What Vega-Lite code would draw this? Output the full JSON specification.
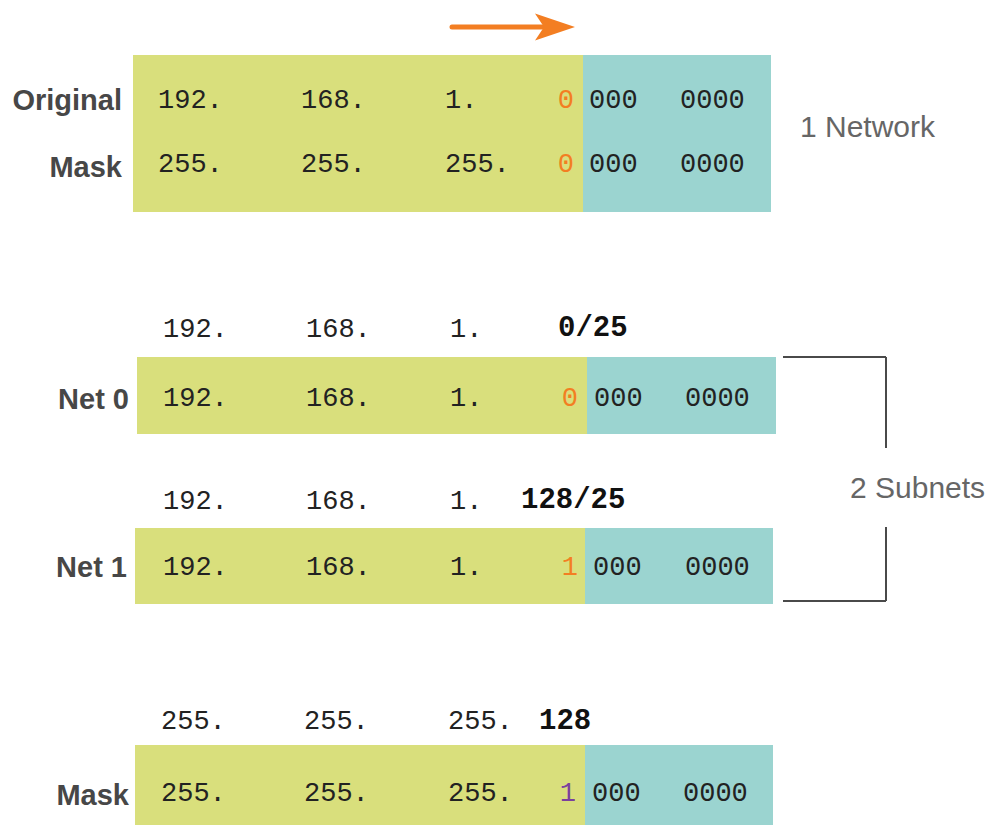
{
  "$schema": "https://vega.github.io/schema/vega-lite/v6.json",
  "autosize": {"type": "fit", "contains": "padding"},
  "width": 989,
  "height": 825,
  "padding": 0,
  "background": "white",
  "config": {"view": {"stroke": null}},
  "datasets": {
    "boxes": [
      {"x1": 133, "x2": 583, "y1": 55, "y2": 212, "part": "network"},
      {"x1": 583, "x2": 771, "y1": 55, "y2": 212, "part": "host"},
      {"x1": 137, "x2": 587, "y1": 357, "y2": 434, "part": "network"},
      {"x1": 587, "x2": 776, "y1": 357, "y2": 434, "part": "host"},
      {"x1": 135, "x2": 585, "y1": 528, "y2": 604, "part": "network"},
      {"x1": 585, "x2": 773, "y1": 528, "y2": 604, "part": "host"},
      {"x1": 135, "x2": 585, "y1": 745, "y2": 825, "part": "network"},
      {"x1": 585, "x2": 773, "y1": 745, "y2": 825, "part": "host"}
    ],
    "texts": [
      {"x": 122, "y": 110, "t": "Original", "role": "label"},
      {"x": 122, "y": 177, "t": "Mask", "role": "label"},
      {"x": 129, "y": 409, "t": "Net 0", "role": "label"},
      {"x": 127, "y": 577, "t": "Net 1", "role": "label"},
      {"x": 129, "y": 805, "t": "Mask", "role": "label"},

      {"x": 158, "y": 108, "t": "192.", "role": "mono"},
      {"x": 301, "y": 108, "t": "168.", "role": "mono"},
      {"x": 445, "y": 108, "t": "1.", "role": "mono"},
      {"x": 589, "y": 108, "t": "000", "role": "mono"},
      {"x": 680, "y": 108, "t": "0000", "role": "mono"},
      {"x": 158, "y": 172, "t": "255.", "role": "mono"},
      {"x": 301, "y": 172, "t": "255.", "role": "mono"},
      {"x": 445, "y": 172, "t": "255.", "role": "mono"},
      {"x": 589, "y": 172, "t": "000", "role": "mono"},
      {"x": 680, "y": 172, "t": "0000", "role": "mono"},

      {"x": 163, "y": 337, "t": "192.", "role": "mono"},
      {"x": 306, "y": 337, "t": "168.", "role": "mono"},
      {"x": 450, "y": 337, "t": "1.", "role": "mono"},
      {"x": 163, "y": 406, "t": "192.", "role": "mono"},
      {"x": 306, "y": 406, "t": "168.", "role": "mono"},
      {"x": 450, "y": 406, "t": "1.", "role": "mono"},
      {"x": 594, "y": 406, "t": "000", "role": "mono"},
      {"x": 685, "y": 406, "t": "0000", "role": "mono"},

      {"x": 163, "y": 509, "t": "192.", "role": "mono"},
      {"x": 306, "y": 509, "t": "168.", "role": "mono"},
      {"x": 450, "y": 509, "t": "1.", "role": "mono"},
      {"x": 163, "y": 575, "t": "192.", "role": "mono"},
      {"x": 306, "y": 575, "t": "168.", "role": "mono"},
      {"x": 450, "y": 575, "t": "1.", "role": "mono"},
      {"x": 593, "y": 575, "t": "000", "role": "mono"},
      {"x": 685, "y": 575, "t": "0000", "role": "mono"},

      {"x": 161, "y": 729, "t": "255.", "role": "mono"},
      {"x": 304, "y": 729, "t": "255.", "role": "mono"},
      {"x": 448, "y": 729, "t": "255.", "role": "mono"},
      {"x": 161, "y": 801, "t": "255.", "role": "mono"},
      {"x": 304, "y": 801, "t": "255.", "role": "mono"},
      {"x": 448, "y": 801, "t": "255.", "role": "mono"},
      {"x": 592, "y": 801, "t": "000", "role": "mono"},
      {"x": 683, "y": 801, "t": "0000", "role": "mono"},

      {"x": 574, "y": 108, "t": "0", "role": "orange"},
      {"x": 574, "y": 172, "t": "0", "role": "orange"},
      {"x": 578, "y": 406, "t": "0", "role": "orange"},
      {"x": 578, "y": 575, "t": "1", "role": "orange"},
      {"x": 576, "y": 801, "t": "1", "role": "purple"},

      {"x": 558, "y": 336, "t": "0/25", "role": "prefix"},
      {"x": 521, "y": 508, "t": "128/25", "role": "prefix"},
      {"x": 539, "y": 729, "t": "128", "role": "prefix"}
    ],
    "notes": [
      {"x": 800, "y": 137, "t": "1 Network"},
      {"x": 850, "y": 498, "t": "2 Subnets"}
    ],
    "bracket": [
      {"x1": 783, "x2": 886, "y1": 357, "y2": 357},
      {"x1": 886, "x2": 886, "y1": 357, "y2": 448},
      {"x1": 886, "x2": 886, "y1": 527, "y2": 601},
      {"x1": 783, "x2": 886, "y1": 601, "y2": 601}
    ],
    "arrow": [
      {"x1": 452, "x2": 548, "y": 27}
    ],
    "arrowhead": [
      {"x": 555, "y": 27}
    ]
  },
  "layer": [
    {
      "data": {"name": "boxes"},
      "mark": {"type": "rect"},
      "encoding": {
        "x": {"field": "x1", "type": "quantitative", "scale": {"domain": [0, 989], "nice": false, "zero": false}, "axis": null},
        "x2": {"field": "x2"},
        "y": {"field": "y1", "type": "quantitative", "scale": {"domain": [0, 825], "nice": false, "zero": false, "reverse": true}, "axis": null},
        "y2": {"field": "y2"},
        "color": {"field": "part", "type": "nominal", "scale": {"domain": ["network", "host"], "range": ["#d9df7c", "#9bd4d0"]}, "legend": null}
      }
    },
    {
      "data": {"name": "bracket"},
      "mark": {"type": "rule", "color": "#4a4a4a", "strokeWidth": 2},
      "encoding": {
        "x": {"field": "x1", "type": "quantitative"},
        "x2": {"field": "x2"},
        "y": {"field": "y1", "type": "quantitative"},
        "y2": {"field": "y2"}
      }
    },
    {
      "data": {"name": "arrow"},
      "mark": {"type": "rule", "color": "#f37e22", "strokeWidth": 5, "strokeCap": "round"},
      "encoding": {
        "x": {"field": "x1", "type": "quantitative"},
        "x2": {"field": "x2"},
        "y": {"field": "y", "type": "quantitative"}
      }
    },
    {
      "data": {"name": "arrowhead"},
      "mark": {"type": "point", "filled": true, "color": "#f37e22", "opacity": 1, "size": 1600, "shape": "M-1,-0.68L1,0L-1,0.68L-0.55,0Z"},
      "encoding": {
        "x": {"field": "x", "type": "quantitative"},
        "y": {"field": "y", "type": "quantitative"}
      }
    },
    {
      "data": {"name": "texts"},
      "transform": [{"filter": "datum.role === 'label'"}],
      "mark": {"type": "text", "font": "Liberation Sans", "fontWeight": "bold", "fontSize": 29, "align": "right", "baseline": "alphabetic", "color": "#474747", "letterSpacing": -1.2},
      "encoding": {
        "x": {"field": "x", "type": "quantitative"},
        "y": {"field": "y", "type": "quantitative"},
        "text": {"field": "t"}
      }
    },
    {
      "data": {"name": "texts"},
      "transform": [{"filter": "datum.role === 'mono'"}],
      "mark": {"type": "text", "font": "Liberation Mono", "fontSize": 27, "align": "left", "baseline": "alphabetic", "color": "#222222"},
      "encoding": {
        "x": {"field": "x", "type": "quantitative"},
        "y": {"field": "y", "type": "quantitative"},
        "text": {"field": "t"}
      }
    },
    {
      "data": {"name": "texts"},
      "transform": [{"filter": "datum.role === 'orange'"}],
      "mark": {"type": "text", "font": "Liberation Mono", "fontSize": 27, "align": "right", "baseline": "alphabetic", "color": "#f37e22"},
      "encoding": {
        "x": {"field": "x", "type": "quantitative"},
        "y": {"field": "y", "type": "quantitative"},
        "text": {"field": "t"}
      }
    },
    {
      "data": {"name": "texts"},
      "transform": [{"filter": "datum.role === 'purple'"}],
      "mark": {"type": "text", "font": "Liberation Mono", "fontSize": 27, "align": "right", "baseline": "alphabetic", "color": "#7b3f9e"},
      "encoding": {
        "x": {"field": "x", "type": "quantitative"},
        "y": {"field": "y", "type": "quantitative"},
        "text": {"field": "t"}
      }
    },
    {
      "data": {"name": "texts"},
      "transform": [{"filter": "datum.role === 'prefix'"}],
      "mark": {"type": "text", "font": "Liberation Mono", "fontWeight": "bold", "fontSize": 29, "align": "left", "baseline": "alphabetic", "color": "#111111"},
      "encoding": {
        "x": {"field": "x", "type": "quantitative"},
        "y": {"field": "y", "type": "quantitative"},
        "text": {"field": "t"}
      }
    },
    {
      "data": {"name": "notes"},
      "mark": {"type": "text", "font": "Liberation Sans", "fontSize": 30, "align": "left", "baseline": "alphabetic", "color": "#666666"},
      "encoding": {
        "x": {"field": "x", "type": "quantitative"},
        "y": {"field": "y", "type": "quantitative"},
        "text": {"field": "t"}
      }
    }
  ]
}
